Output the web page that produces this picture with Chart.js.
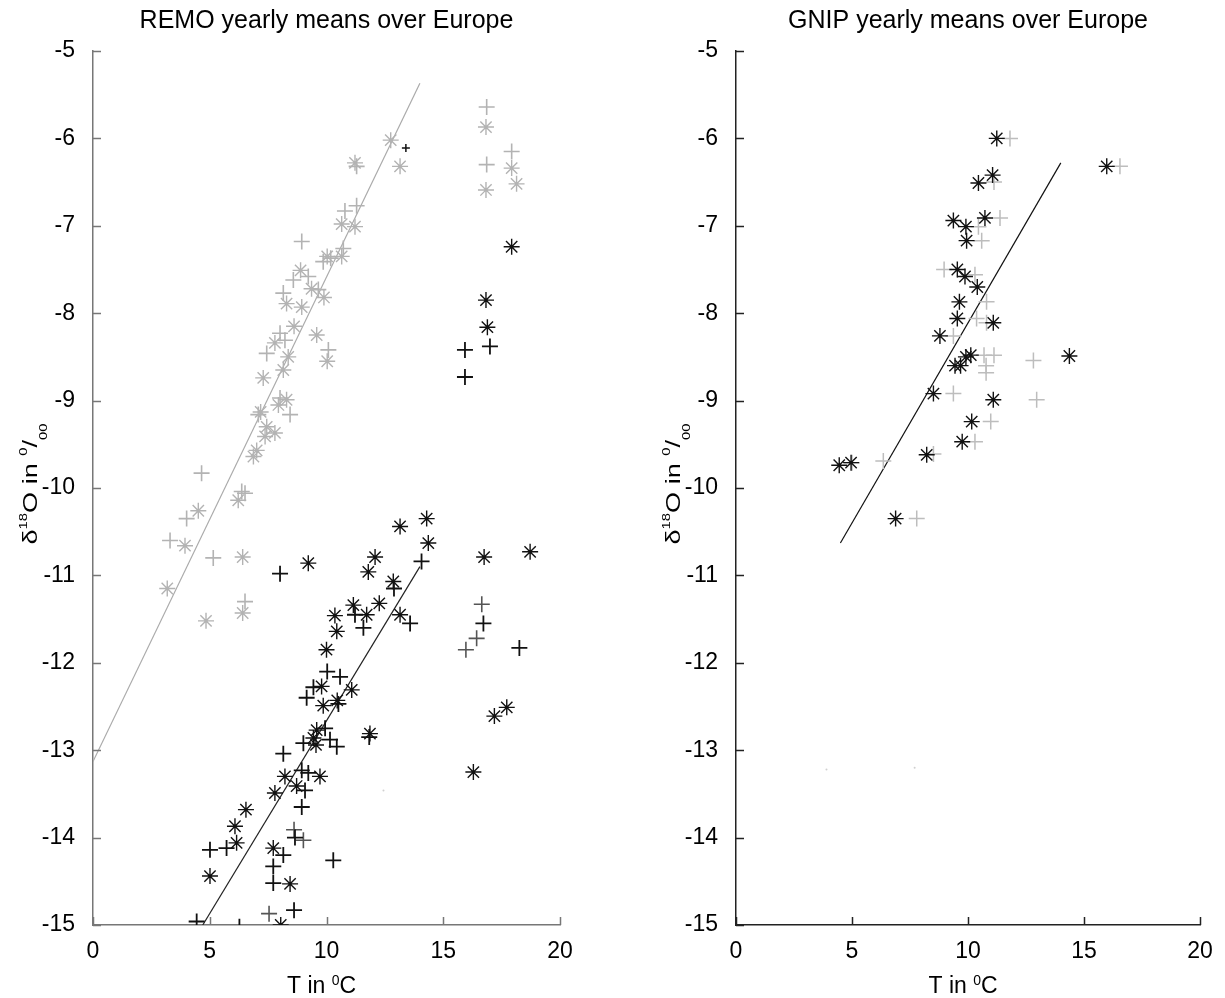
<!DOCTYPE html>
<html>
<head>
<meta charset="utf-8">
<title>REMO / GNIP</title>
<script src="https://cdn.jsdelivr.net/npm/chart.js@4/dist/chart.umd.min.js"></script>
<style>
    html, body { margin: 0; padding: 0; background: #fff; }
    #izq { position: absolute; left: 0; top: 0; }
    #der { position: absolute; left: 612px; top: 0; }
</style>
</head>
<body>
<canvas id="izq" width="612" height="998"></canvas>
<canvas id="der" width="613" height="998"></canvas>
<script>
// Datos: pares [T en °C, d18O en permil]
const ticksX = [0, 5, 10, 15, 20];
const ticksY = [-5, -6, -7, -8, -9, -10, -11, -12, -13, -14, -15];

// REMO, simbolos grises
const remoGrisCruz = [[16.86,-5.64],[17.93,-6.15],[16.86,-6.30],[11.29,-6.32],[10.79,-6.83],[11.29,-6.77],
    [8.94,-7.18],[10.72,-7.26],[9.86,-7.41],[10.18,-7.37],[9.22,-7.58],[8.58,-7.62],[9.65,-7.73],[8.15,-7.77],
    [8.01,-8.23],[10.08,-8.42],[7.44,-8.46],[8.22,-8.31],[8.01,-8.97],[8.44,-9.16],[7.08,-9.16],[4.65,-9.83],
    [6.37,-10.04],[6.51,-10.06],[4.01,-10.35],[3.30,-10.60],[5.15,-10.80],[6.51,-11.30]];
const remoGrisAst = [[16.83,-5.87],[17.93,-6.34],[18.14,-6.52],[16.83,-6.59],[12.75,-6.02],[13.15,-6.32],[11.22,-6.28],
    [10.65,-6.98],[11.22,-7.01],[10.65,-7.35],[10.03,-7.35],[8.89,-7.51],[9.36,-7.72],[8.29,-7.89],[9.89,-7.82],
    [8.94,-7.93],[8.61,-8.15],[9.58,-8.25],[10.03,-8.55],[7.79,-8.34],[8.36,-8.50],[8.15,-8.65],[7.29,-8.74],
    [8.29,-8.99],[7.94,-9.05],[7.18,-9.13],[7.44,-9.30],[7.79,-9.37],[7.37,-9.41],[7.01,-9.57],[6.87,-9.64],
    [6.22,-10.14],[4.51,-10.26],[3.94,-10.66],[6.41,-10.79],[3.18,-11.15],[6.41,-11.43],[4.84,-11.52]];

// REMO, simbolos negros
const remoNegroAst = [[17.93,-7.24],[16.83,-7.85],[16.89,-8.16],[9.22,-10.86],[13.15,-10.44],[14.29,-10.35],
    [14.36,-10.63],[16.75,-10.79],[18.72,-10.73],[12.08,-10.79],[11.79,-10.96],[12.86,-11.07],[12.26,-11.32],
    [11.15,-11.34],[10.36,-11.46],[11.72,-11.45],[13.15,-11.45],[10.44,-11.64],[10.00,-11.85],[9.79,-12.27],
    [11.08,-12.31],[10.46,-12.43],[9.86,-12.49],[11.86,-12.81],[9.58,-12.77],[9.44,-12.86],[9.55,-12.94],
    [9.72,-13.30],[8.22,-13.30],[8.72,-13.41],[7.79,-13.49],[6.55,-13.68],[6.08,-13.87],[6.15,-14.06],
    [7.72,-14.12],[5.01,-14.44],[8.44,-14.53],[8.04,-15.00],[17.72,-12.51],[17.19,-12.61],[16.29,-13.25]];
const remoNegroCruz = [[17.00,-8.38],[15.93,-8.42],[15.93,-8.73],[8.01,-10.98],[14.07,-10.84],[12.89,-11.15],
    [11.22,-11.45],[11.58,-11.60],[13.58,-11.55],[16.72,-11.55],[18.26,-11.83],[10.03,-12.10],[10.58,-12.16],
    [9.44,-12.28],[9.15,-12.40],[10.51,-12.47],[11.83,-12.85],[9.94,-12.75],[9.01,-12.92],[10.44,-12.96],
    [10.15,-12.88],[8.15,-13.04],[8.94,-13.23],[9.22,-13.26],[9.08,-13.46],[8.94,-13.65],[8.65,-14.00],
    [5.72,-14.12],[5.01,-14.14],[8.15,-14.20],[10.29,-14.26],[7.72,-14.33],[7.72,-14.52],[8.61,-14.83],
    [4.44,-14.96],[6.27,-15.02]];
const remoOscuroCruz = [[16.65,-11.33],[16.43,-11.72],[15.97,-11.85],[8.61,-13.91],[9.01,-14.03],[7.54,-14.87]];
const remoCruzChica = [[13.40,-6.11]];
const remoPunto = [[12.44,-13.46]];

// Rectas de ajuste
const ajusteRemoGris = [[0,-13.13],[14.0,-5.37]];
const ajusteRemoNegro = [[4.7,-15.0],[14.0,-10.9]];

// GNIP
const gnipNegroAst = [[11.24,-6.00],[15.98,-6.32],[11.06,-6.42],[10.45,-6.51],[9.37,-6.94],[10.73,-6.91],
    [9.91,-7.01],[9.94,-7.17],[9.54,-7.50],[9.87,-7.58],[10.40,-7.70],[9.63,-7.87],[9.54,-8.06],[11.09,-8.11],
    [8.79,-8.26],[10.12,-8.48],[9.91,-8.50],[14.37,-8.49],[9.44,-8.60],[9.68,-8.60],[8.51,-8.92],[11.09,-8.99],
    [10.16,-9.24],[9.75,-9.47],[8.22,-9.62],[4.45,-9.74],[4.96,-9.71],[6.88,-10.35]];
const gnipGrisCruz = [[11.81,-6.00],[16.55,-6.32],[11.12,-6.50],[11.38,-6.91],[10.45,-7.01],[10.59,-7.17],
    [8.97,-7.50],[10.30,-7.56],[10.80,-7.87],[10.37,-8.06],[10.80,-8.11],[9.37,-8.26],[10.69,-8.48],[11.12,-8.48],
    [12.82,-8.54],[10.78,-8.60],[10.78,-8.68],[9.37,-8.92],[12.96,-8.99],[10.98,-9.24],[10.30,-9.47],[8.51,-9.61],
    [5.00,-9.71],[6.35,-9.69],[7.79,-10.35]];
const gnipPunto = [[3.9,-13.22],[7.7,-13.20]];
const ajusteGnip = [[4.5,-10.63],[14.0,-6.28]];

const FAMILIA = "'Liberation Sans', Arial, sans-serif";

function aPuntos(pares) {
    return pares.map(p => ({ x: p[0], y: p[1] }));
}

function marcas(pares, estilo, color, radio, grosor) {
    return {
        data: aPuntos(pares),
        pointStyle: estilo,
        pointRadius: radio,
        pointBorderColor: color,
        pointBackgroundColor: color,
        pointBorderWidth: grosor,
        showLine: false
    };
}

function recta(pares, color, grosor) {
    return {
        data: aPuntos(pares),
        showLine: true,
        borderColor: color,
        borderWidth: grosor,
        pointRadius: 0
    };
}

// Dibuja trozos de texto con super/subindices
function dibujarTrozos(ctx, trozos, x0, y0) {
    let x = x0;
    trozos.forEach(t => {
        ctx.font = t[1] + 'px ' + FAMILIA;
        ctx.fillText(t[0], x, y0 + t[2]);
        x += ctx.measureText(t[0]).width;
    });
}

function anchoTrozos(ctx, trozos) {
    let w = 0;
    trozos.forEach(t => {
        ctx.font = t[1] + 'px ' + FAMILIA;
        w += ctx.measureText(t[0]).width;
    });
    return w;
}

// Marcas de los ejes hacia dentro
const marcasEje = {
    id: 'marcasEje',
    afterDraw(chart, args, opts) {
        const ctx = chart.ctx;
        const area = chart.chartArea;
        const sx = chart.scales.x;
        const sy = chart.scales.y;
        ctx.save();
        ctx.strokeStyle = opts.color;
        ctx.lineWidth = 1.5;
        ctx.beginPath();
        ticksX.forEach(v => {
            const px = Math.round(sx.getPixelForValue(v)) + 0.5;
            ctx.moveTo(px, area.bottom);
            ctx.lineTo(px, area.bottom - 8);
        });
        ticksY.forEach(v => {
            const py = Math.round(sy.getPixelForValue(v)) + 0.5;
            ctx.moveTo(area.left, py);
            ctx.lineTo(area.left + 8, py);
        });
        ctx.stroke();
        ctx.restore();
    }
};

// Rotulos de los ejes (con superindices)
const rotulos = {
    id: 'rotulos',
    afterDraw(chart) {
        const ctx = chart.ctx;
        const area = chart.chartArea;
        ctx.save();
        ctx.fillStyle = '#000';
        ctx.textBaseline = 'alphabetic';
        ctx.textAlign = 'left';

        const trozosX = [['T in ', 23, 0], ['0', 14, -8], ['C', 23, 0]];
        const cx = (area.left + area.right) / 2 - 5;
        dibujarTrozos(ctx, trozosX, cx - anchoTrozos(ctx, trozosX) / 2, 993);

        const trozosY = [['\u03b4', 20, 0], ['18', 11, -10], ['O', 20, 0], [' in ', 20, 0],
            ['0', 11, -10], ['/', 20, 0], ['00', 11, 10]];
        ctx.translate(area.left - 56, (area.top + area.bottom) / 2 - 4);
        ctx.rotate(-Math.PI / 2);
        ctx.scale(1.35, 1);
        dibujarTrozos(ctx, trozosY, -anchoTrozos(ctx, trozosY) / 2, 0);
        ctx.restore();
    }
};

function opciones(titulo, anchoY, derecha, colorEje) {
    return {
        responsive: false,
        animation: false,
        events: [],
        layout: { padding: { left: 0, right: derecha, top: 0, bottom: 0 } },
        plugins: {
            legend: { display: false },
            tooltip: { enabled: false },
            marcasEje: { color: colorEje },
            title: {
                display: true,
                text: titulo,
                fullSize: false,
                color: '#000',
                font: { family: FAMILIA, size: 25, weight: 'normal' },
                padding: { top: 6, bottom: 15 }
            }
        },
        scales: {
            x: {
                type: 'linear',
                min: 0,
                max: 20,
                afterFit: s => { s.height = 73; },
                afterBuildTicks: s => { s.ticks = ticksX.map(v => ({ value: v })); },
                ticks: { color: '#000', padding: 5, font: { family: FAMILIA, size: 23 } },
                grid: { display: false },
                border: { display: true, color: colorEje, width: 1.5 }
            },
            y: {
                type: 'linear',
                min: -15,
                max: -5,
                afterFit: s => { s.width = anchoY; },
                afterBuildTicks: s => { s.ticks = ticksY.map(v => ({ value: v })); },
                ticks: { color: '#000', padding: 10, font: { family: FAMILIA, size: 23 } },
                grid: { display: false },
                border: { display: true, color: colorEje, width: 1.5 }
            }
        }
    };
}

const GRIS = '#b3b3b3';
const NEGRO = '#111111';

new Chart(document.getElementById('izq'), {
    type: 'scatter',
    data: {
        datasets: [
            marcas(remoNegroAst, 'star', NEGRO, 8, 1.4),
            marcas(remoNegroCruz, 'cross', NEGRO, 8, 1.8),
            marcas(remoOscuroCruz, 'cross', '#555555', 8, 1.6),
            marcas(remoCruzChica, 'cross', NEGRO, 4, 1.5),
            marcas(remoGrisAst, 'star', GRIS, 8, 1.4),
            marcas(remoGrisCruz, 'cross', GRIS, 8, 1.6),
            marcas(remoPunto, 'circle', '#d0d0d0', 1, 0),
            recta(ajusteRemoNegro, '#222222', 1.2),
            recta(ajusteRemoGris, '#aaaaaa', 1.2)
        ]
    },
    options: opciones('REMO yearly means over Europe', 93, 52, '#777777'),
    plugins: [rotulos, marcasEje]
});

new Chart(document.getElementById('der'), {
    type: 'scatter',
    data: {
        datasets: [
            marcas(gnipNegroAst, 'star', NEGRO, 8, 1.4),
            marcas(gnipGrisCruz, 'cross', '#bdbdbd', 8, 1.5),
            marcas(gnipPunto, 'circle', '#d0d0d0', 1, 0),
            recta(ajusteGnip, '#111111', 1.2)
        ]
    },
    options: opciones('GNIP yearly means over Europe', 124, 25, '#222222'),
    plugins: [rotulos, marcasEje]
});
</script>
</body>
</html>
